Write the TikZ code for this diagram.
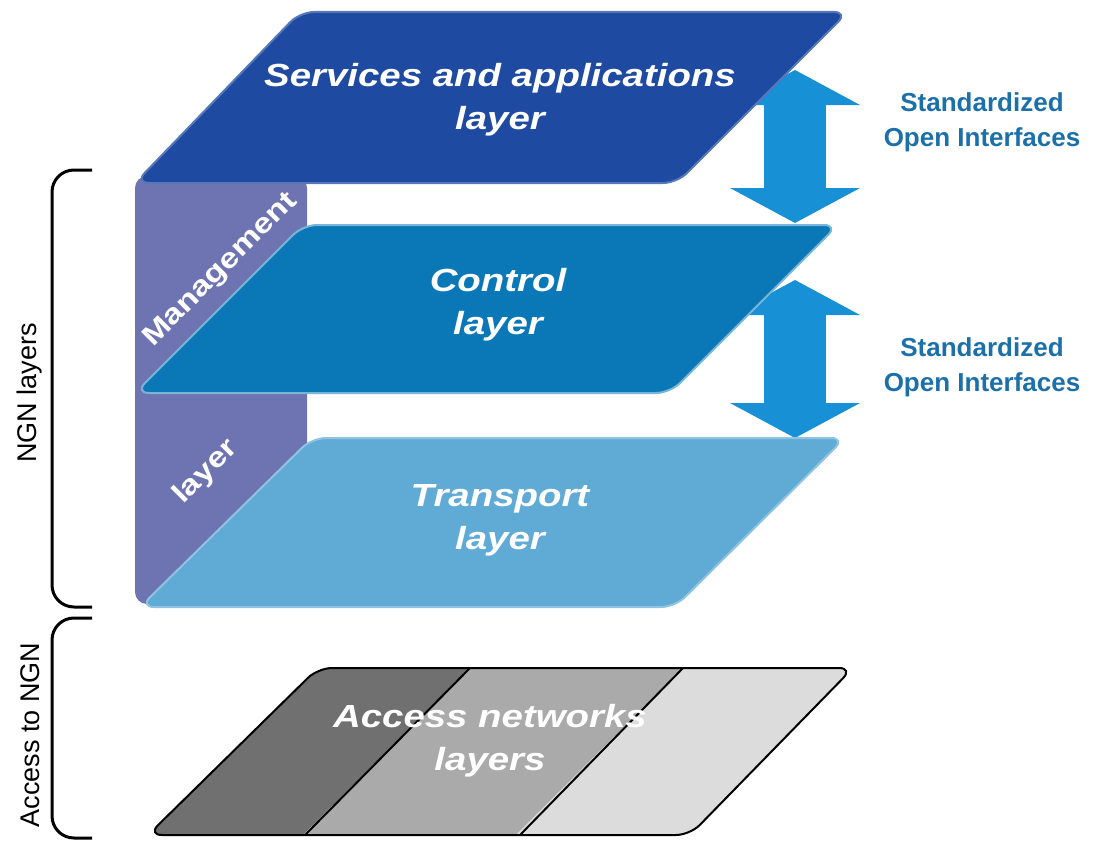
\documentclass[tikz,border=0pt]{standalone}
\usepackage{fontspec}
\setsansfont{Liberation Sans}
\newfontfamily\layerfont[FakeStretch=1.2]{Liberation Sans}
\usetikzlibrary{arrows.meta}
\definecolor{svcblue}{RGB}{30,74,162}
\definecolor{ctlblue}{RGB}{10,120,182}
\definecolor{trnblue}{RGB}{96,170,214}
\definecolor{mgmtpurple}{RGB}{110,116,178}
\definecolor{ifblue}{RGB}{24,144,214}
\definecolor{ifcolor}{RGB}{28,112,170}
\definecolor{accdark}{RGB}{112,112,112}
\definecolor{accmid}{RGB}{170,170,170}
\definecolor{acclight}{RGB}{220,220,220}

\begin{document}
\begin{tikzpicture}[
  x=1pt, y=-1pt,
  font=\sffamily,
  layer/.style={rounded corners=14pt,line width=2pt},
  layertext/.style={text=white,align=center,font=\layerfont\bfseries\itshape\fontsize{32}{43}\selectfont},
  mgmttext/.style={text=white,rotate=45,font=\layerfont\bfseries\fontsize{28}{30}\selectfont},
  iftext/.style={text=ifcolor,align=center,font=\sffamily\bfseries\fontsize{26}{35}\selectfont},
  side/.style={rotate=90,font=\sffamily\fontsize{27}{30}\selectfont},
  brace/.style={line width=3pt,rounded corners=22pt},
  iface/.style={draw=ifblue,line width=62pt,
    {Triangle[width=130pt,length=35pt,line width=0pt]}-{Triangle[width=130pt,length=35pt,line width=0pt]}}]

  \useasboundingbox (0,0) rectangle (1093,843);

  % Management strip behind the layers
  \fill[mgmtpurple,rounded corners=12pt] (135,176) rectangle (307,604);

  % Interface arrows, the layers cover their upper heads
  \coordinate (if1top) at (795,70);
  \coordinate (if1bot) at (795,223);
  \coordinate (if2top) at (795,280);
  \coordinate (if2bot) at (795,438);
  \draw[iface] (if1top) -- (if1bot);
  \draw[iface] (if2top) -- (if2bot);

  % The NGN layers
  \filldraw[layer,fill=svcblue,draw=svcblue!75!white] (135,183) -- (300,12) -- (848,12) -- (677,183) -- cycle;
  \filldraw[layer,fill=ctlblue,draw=ctlblue!55!white] (135,393) -- (303,225) -- (838,225) -- (670,393) -- cycle;
  \filldraw[layer,fill=trnblue,draw=trnblue!70!white] (140,607) -- (312,438) -- (845,438) -- (675,607) -- cycle;

  % Access networks layer in three bands
  \begin{scope}
    \clip[rounded corners=14pt] (148,835) -- (318,668) -- (853,668) -- (690,835) -- cycle;
    \fill[accdark] (100,850) -- (300,650) -- (488,650) -- (288,850) -- cycle;
    \fill[accmid] (288,850) -- (488,650) -- (701,650) -- (501,850) -- cycle;
    \fill[acclight] (501,850) -- (701,650) -- (900,650) -- (700,850) -- cycle;
  \end{scope}
  \draw[line width=2pt] (470,668) -- (305,835);
  \draw[line width=2pt] (683,668) -- (520,835);
  \draw[line width=2pt,rounded corners=14pt] (148,835) -- (318,668) -- (853,668) -- (690,835) -- cycle;

  % Labels
  \node[layertext] (svc) at (500,100) {Services and applications\\layer};
  \node[layertext] (ctl) at (498,305) {Control\\layer};
  \node[layertext] (trn) at (500,520) {Transport\\layer};
  \node[layertext] (acc) at (490,741) {Access networks\\layers};
  \node[mgmttext] (mgmt) at (221,270) {Management};
  \node[mgmttext] (mgmtlayer) at (206,472) {layer};
  \node[iftext] (if1) at (982,122) {Standardized\\Open Interfaces};
  \node[iftext] (if2) at (982,367) {Standardized\\Open Interfaces};

  % Brackets on the left
  \draw[brace] (92,170) -- (52,170) -- (52,607) -- (92,607);
  \draw[brace] (92,618) -- (52,618) -- (52,838) -- (92,838);
  \node[side] (ngn) at (30,393) {NGN layers};
  \node[side] (access) at (30,735) {Access to NGN};
\end{tikzpicture}
\end{document}
